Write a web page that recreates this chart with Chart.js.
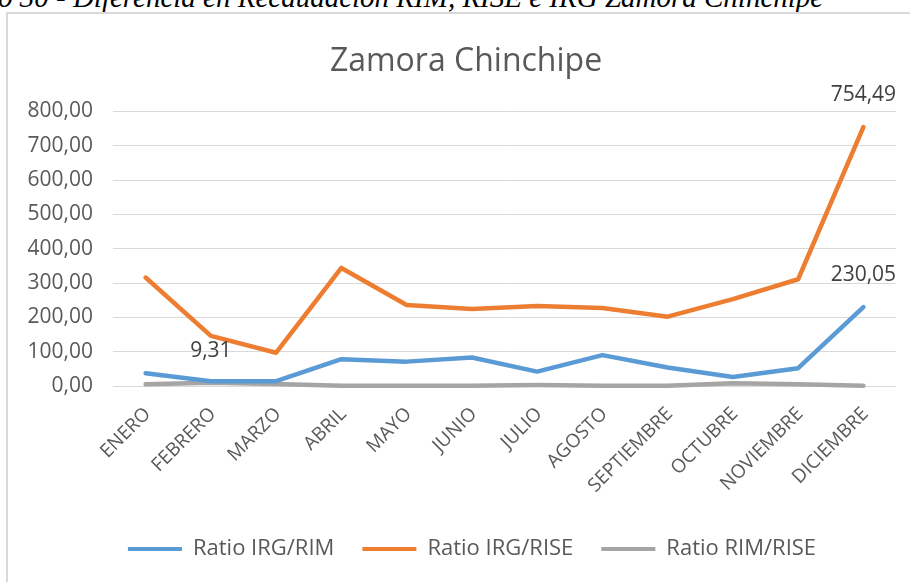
<!DOCTYPE html>
<html>
<head>
<meta charset="utf-8">
<script src="https://cdn.jsdelivr.net/npm/chart.js@4.4.1/dist/chart.umd.min.js"></script>
<style>
  html, body { margin: 0; padding: 0; width: 910px; height: 582px; overflow: hidden; background: #fff; }
  #caption { position: absolute; left: -2px; top: -17px; font-family: "Liberation Serif", "DejaVu Serif", serif; font-style: italic; font-size: 29px; color: #000; white-space: nowrap; line-height: 1; }
  #frame { position: absolute; left: 6px; top: 12px; width: 940px; height: 620px; border: 2px solid #d9d9d9; box-sizing: border-box; }
  #wrap { position: absolute; left: 0; top: 0; width: 910px; height: 582px; }
</style>
</head>
<body>
<div id="caption">o 30 - Diferencia en Recaudación RIM, RISE e IRG Zamora Chinchipe</div>
<div id="frame"></div>
<div id="wrap"><canvas id="c" width="910" height="582"></canvas></div>
<script>
const categories = ["ENERO","FEBRERO","MARZO","ABRIL","MAYO","JUNIO","JULIO","AGOSTO","SEPTIEMBRE","OCTUBRE","NOVIEMBRE","DICIEMBRE"];
const ratioIrgRim  = [37, 14, 14, 78, 71, 83, 42, 90, 54, 26, 52, 230.05];
const ratioIrgRise = [316, 146, 97, 344, 236, 224, 233, 227, 202, 253, 311, 754.49];
const ratioRimRise = [5, 9.31, 6, 1, 1, 1, 3, 1, 1, 8, 5, 1];
const seriesNames = ["Ratio IRG/RIM", "Ratio IRG/RISE", "Ratio RIM/RISE"];
const yTicks = [0, 100, 200, 300, 400, 500, 600, 700, 800];
// data labels shown: [datasetIndex, pointIndex]
const shownLabels = [[1, 11], [0, 11], [2, 1]];

const fmt = v => v.toFixed(2).replace('.', ',');
const FONT = '"Open Sans", "Noto Sans", sans-serif';

const labelPlugin = {
  id: 'pointLabels',
  afterLayout(chart) {
    // Excel centres title and legend on the whole chart frame
    if (chart.titleBlock) { chart.titleBlock.left += 18; chart.titleBlock.right += 18; }
    if (chart.legend) { chart.legend.left += 24; chart.legend.right += 24; }
  },
  afterDatasetsDraw(chart) {
    const ctx = chart.ctx;
    ctx.save();
    ctx.font = '21px ' + FONT;
    ctx.fillStyle = '#404040';
    ctx.textAlign = 'center';
    ctx.textBaseline = 'middle';
    shownLabels.forEach(([d, i]) => {
      const pt = chart.getDatasetMeta(d).data[i];
      const v = chart.data.datasets[d].data[i];
      ctx.fillText(fmt(v), pt.x, pt.y - 32);
    });
    ctx.restore();
  }
};

new Chart(document.getElementById('c'), {
  type: 'line',
  data: {
    labels: categories,
    datasets: [
      { label: seriesNames[0], data: ratioIrgRim,  borderColor: '#5B9BD5', backgroundColor: '#5B9BD5' },
      { label: seriesNames[1], data: ratioIrgRise, borderColor: '#ED7D31', backgroundColor: '#ED7D31' },
      { label: seriesNames[2], data: ratioRimRise, borderColor: '#A5A5A5', backgroundColor: '#A5A5A5' }
    ].map(ds => Object.assign(ds, { borderWidth: 4.5, pointRadius: 0, tension: 0, fill: false, borderCapStyle: 'round', borderJoinStyle: 'round', clip: false }))
  },
  options: {
    responsive: false,
    animation: false,
    devicePixelRatio: 1,
    layout: { padding: { top: 43, left: 0, right: 14, bottom: 12 } },
    plugins: {
      title: {
        display: true,
        text: 'Zamora Chinchipe',
        color: '#595959',
        font: { family: FONT, size: 32, weight: 'normal' },
        padding: { top: 0, bottom: 30 }
      },
      legend: {
        position: 'bottom',
        labels: {
          color: '#595959',
          font: { family: FONT, size: 22 },
          boxWidth: 54,
          boxHeight: 4,
          padding: 28,
          generateLabels(chart) {
            return chart.data.datasets.map((ds, i) => ({
              text: ds.label, fillStyle: ds.borderColor, strokeStyle: ds.borderColor, lineWidth: 0, datasetIndex: i, hidden: false, fontColor: '#595959'
            }));
          }
        }
      },
      tooltip: { enabled: false }
    },
    scales: {
      x: {
        offset: true,
        grid: { display: false, drawTicks: false },
        border: { display: false },
        ticks: { color: '#595959', font: { family: FONT, size: 19 }, minRotation: 45, maxRotation: 45, padding: 17, labelOffset: 2, autoSkip: false },
        afterFit(s) { s.height = 124; }
      },
      y: {
        min: 0, max: 800,
        afterBuildTicks(s) { s.ticks = yTicks.map(v => ({ value: v })); },
        grid: { color: '#d9d9d9', lineWidth: 1, drawTicks: false },
        border: { display: false },
        ticks: { color: '#595959', font: { family: FONT, size: 21 }, padding: 20, callback: v => fmt(v) },
        afterFit(s) { s.width = 113; }
      }
    }
  },
  plugins: [labelPlugin]
});
</script>
</body>
</html>
